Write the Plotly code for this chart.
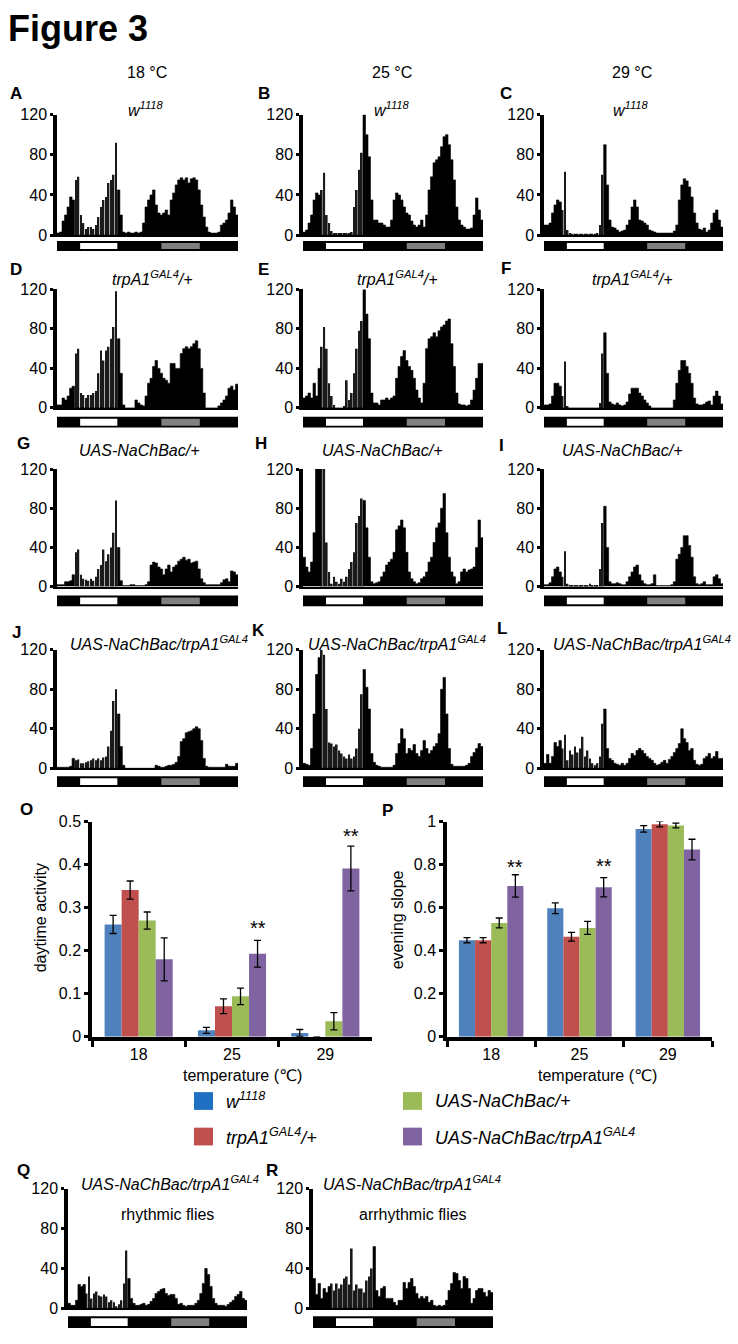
import plotly.graph_objects as go

W, H = 738, 1344
FONT = "Arial, 'Liberation Sans', 'DejaVu Sans', sans-serif"

# ---------------- data ----------------
bins = list(range(72))            # time bins of the activity profiles
light_bins = (7, 23)              # bins drawn striped (lights on)
ld_light = (8.7, 23.5)            # white segment of LD bar (bin units)
ld_grey = (41.0, 56.3)            # grey segment of LD bar (bin units)
act_ticks = [0, 40, 80, 120]

A_counts = [2,3,14,20,28,38,35,55,58,20, 12,6,8,8,6,10,18,28,35,38, 52,55,60,92,45,20,3,2,3,2,
            2,3,2,3,12,28,35,40,45,30, 22,20,22,25,20,35,42,50,55,57, 55,57,52,56,57,55,45,30,18,8,
            3,2,2,2,3,10,12,15,22,35, 28,20]
B_counts = [3,5,12,20,35,42,40,45,62,20, 12,4,2,2,2,2,2,2,2,3, 28,45,65,82,120,100,78,35,15,15,
            12,12,10,8,8,15,35,42,40,35, 28,22,20,14,10,8,10,15,8,20, 45,58,72,75,78,88,98,100,90,75,
            55,28,15,10,8,6,6,7,20,37, 25,15]
C_counts = [10,10,12,22,30,35,33,25,63,5, 2,1,1,1,1,1,1,1,1,1, 1,2,10,60,90,50,15,8,7,5,
            3,4,5,10,15,28,35,28,15,14, 12,10,5,4,3,2,2,2,2,2, 2,2,4,10,35,50,56,54,48,38,
            22,12,6,5,7,3,5,12,22,25, 15,8]
D_counts = [3,3,10,8,12,20,22,55,60,15, 13,10,13,13,15,17,35,58,48,58, 62,70,82,118,70,35,3,0,0,0,
            0,8,5,3,2,12,25,30,42,48, 40,35,30,28,25,45,45,40,40,55, 60,62,60,62,65,68,60,40,15,0,
            0,0,0,0,2,5,8,12,20,22, 18,24]
E_counts = [10,12,15,10,25,12,40,62,82,60, 25,12,3,0,0,0,2,28,8,15, 35,60,78,88,120,95,70,15,5,5,
            3,8,8,10,8,10,12,30,42,52, 58,48,42,38,30,18,10,5,25,60, 70,72,76,72,78,82,84,88,90,65,
            42,15,4,3,3,2,3,8,18,30, 45,45]
F_counts = [3,3,4,12,25,25,22,12,47,2, 0,0,0,0,0,0,0,0,0,0, 0,0,5,55,76,35,6,4,3,5,
            3,2,3,6,14,20,20,20,15,12, 8,5,2,0,0,0,0,0,0,0, 0,0,8,25,38,48,48,42,35,25,
            10,4,3,3,4,6,7,3,12,17, 12,4]
G_counts = [2,2,2,5,5,6,12,35,38,12, 8,7,6,8,6,10,18,22,38,26, 33,40,55,88,40,6,1,1,1,2,
            2,1,1,1,1,2,5,22,25,24, 20,18,12,18,22,15,20,22,26,28, 30,27,28,24,25,26,18,8,4,2,
            2,2,2,2,2,4,7,8,5,16, 15,12]
H_counts = [30,20,15,25,55,120,120,120,120,45, 15,3,10,5,3,8,5,10,18,25, 35,65,72,90,88,60,30,5,3,4,
            5,10,15,22,25,28,35,58,62,68, 60,35,15,8,5,3,4,8,10,15, 25,30,45,60,65,80,95,55,30,15,
            10,3,5,15,18,15,17,18,20,40, 68,50]
I_counts = [2,2,4,10,18,20,15,10,36,3, 1,1,1,1,1,1,1,1,3,1, 1,1,18,65,82,40,5,3,3,4,
            3,2,2,5,10,15,20,22,12,6, 3,2,2,3,12,1,1,1,1,1, 1,2,5,28,33,40,52,52,42,30,
            10,3,2,3,5,2,2,2,10,12, 8,3]
J_counts = [1,1,1,1,1,2,10,8,9,5, 5,6,7,8,10,8,10,8,11,12, 22,38,68,80,55,22,3,0,0,0,
            0,0,0,0,0,0,0,0,0,3, 2,1,1,2,3,3,4,6,12,27, 30,36,37,38,40,42,40,28,10,2,
            1,1,1,1,1,1,1,4,2,2, 2,5]
K_counts = [5,4,3,20,55,95,112,120,115,60, 26,25,22,24,18,15,12,10,14,10, 12,20,40,75,100,82,60,15,6,3,
            2,1,1,1,1,1,3,15,25,40, 30,15,20,18,24,15,12,18,28,20, 15,18,22,25,35,80,92,55,20,4,
            2,2,2,2,2,3,5,12,16,20, 25,22]
L_counts = [5,14,5,12,26,22,28,20,34,8, 18,14,22,16,20,32,12,18,10,5, 3,5,12,45,60,20,10,8,5,4,
            3,5,3,5,10,15,13,18,20,18, 15,12,10,8,5,3,4,6,8,5, 9,12,16,20,25,40,30,26,18,20,
            8,4,3,4,10,12,15,10,12,17, 10,10]
Q_counts = [5,3,3,8,24,22,24,15,32,10, 15,17,13,12,14,12,6,8,6,2, 4,8,25,58,30,10,5,3,3,4,
            5,3,4,7,10,15,17,19,20,15, 13,14,14,10,4,5,3,2,3,3, 3,5,8,15,25,40,34,22,10,5,
            3,3,3,2,4,6,8,12,14,17, 10,8]
R_counts = [30,14,25,10,20,16,22,25,18,25, 20,24,30,32,24,60,18,24,20,20, 16,28,32,40,62,18,12,20,22,10,
            10,10,6,3,8,8,26,20,26,30, 22,15,10,12,10,12,6,8,3,2, 3,2,3,8,18,25,36,35,28,20,
            32,30,20,5,10,18,20,20,16,12, 18,16]

temps = ["18", "25", "29"]
col_headers = ["18 °C", "25 °C", "29 °C"]
geno_w1118 = "<i>w<sup>1118</sup></i>"
geno_trpA1 = "<i>trpA1<sup>GAL4</sup>/+</i>"
geno_uas = "<i>UAS-NaChBac/+</i>"
geno_cross = "<i>UAS-NaChBac/trpA1<sup>GAL4</sup></i>"

# panel O: daytime activity (mean, sem) per temperature
day_w1118 = [0.261, 0.015, 0.009]
day_w1118_err = [0.021, 0.007, 0.008]
day_trpA1 = [0.341, 0.071, 0.0]
day_trpA1_err = [0.021, 0.017, 0.0]
day_uas = [0.270, 0.094, 0.036]
day_uas_err = [0.020, 0.019, 0.020]
day_cross = [0.180, 0.193, 0.391]
day_cross_err = [0.050, 0.031, 0.052]
day_stars = [(1, 0.264), (2, 0.479)]

# panel P: evening slope (mean, sem)
eve_w1118 = [0.449, 0.597, 0.966]
eve_w1118_err = [0.012, 0.025, 0.015]
eve_trpA1 = [0.449, 0.465, 0.988]
eve_trpA1_err = [0.012, 0.020, 0.013]
eve_uas = [0.529, 0.506, 0.982]
eve_uas_err = [0.023, 0.030, 0.011]
eve_cross = [0.701, 0.695, 0.870]
eve_cross_err = [0.052, 0.045, 0.048]
eve_stars = [(0, 0.813), (1, 0.817)]

BLUE, RED, GREEN, PURPLE = "#4F81BD", "#C0504D", "#9BBB59", "#8064A2"
LEG_BLUE = "#1F6FC2"


def fx(p):
    return p / W


def fy(p):
    return 1 - p / H


fig = go.Figure()
layout = {}
shapes = []
annotations = []


def ann(text, x, y, size=16, xanchor="center", yanchor="middle", angle=0, yshift=0):
    annotations.append(dict(text=text, x=fx(x), y=fy(y), xref="paper", yref="paper",
                            showarrow=False, xanchor=xanchor, yanchor=yanchor, textangle=angle,
                            yshift=yshift, font=dict(family=FONT, size=size, color="black")))


def names(n):
    if n == 1:
        return "xaxis", "yaxis", "x", "y"
    return f"xaxis{n}", f"yaxis{n}", f"x{n}", f"y{n}"


# letter, subtitle, counts, x-span, y-span (120 -> 0), LD bar rows, letter pos, subtitle pos
act_panels = [
    ("A", geno_w1118, A_counts, (57, 238), (108, 230), (236, 246), (8, 87), (146, 102)),
    ("B", geno_w1118, B_counts, (303, 483), (108, 230), (236, 246), (256, 87), (392, 102)),
    ("C", geno_w1118, C_counts, (544, 723), (108, 230), (236, 246), (498, 87), (631, 102)),
    ("D", geno_trpA1, D_counts, (57, 238), (285, 405), (414, 425), (8, 265), (152, 273)),
    ("E", geno_trpA1, E_counts, (303, 483), (285, 405), (414, 425), (256, 265), (397, 273)),
    ("F", geno_trpA1, F_counts, (544, 723), (285, 405), (414, 425), (499, 264), (632, 273)),
    ("G", geno_uas, G_counts, (57, 238), (467, 586), (595, 606), (15, 441), (139, 448)),
    ("H", geno_uas, H_counts, (303, 483), (467, 586), (595, 606), (253, 441), (382, 448)),
    ("I", geno_uas, I_counts, (544, 723), (467, 586), (595, 606), (497, 443), (622, 448)),
    ("J", geno_cross, J_counts, (57, 238), (650, 770), (778, 789), (10, 633), (159, 643)),
    ("K", geno_cross, K_counts, (303, 483), (650, 770), (778, 789), (250, 630), (397, 643)),
    ("L", geno_cross, L_counts, (544, 723), (650, 770), (778, 789), (495, 628), (642, 643)),
    ("Q", geno_cross, Q_counts, (68, 247), (1196, 1317), (1325, 1337), (15, 1177), (170, 1190)),
    ("R", geno_cross, R_counts, (313, 493), (1196, 1317), (1325, 1337), (264, 1177), (412, 1190)),
]

edges = [b - 0.5 for b in bins] + [bins[-1] + 0.5]

for i, (letter, sub, counts, xs, ys, ld, lpos, spos) in enumerate(act_panels):
    n = i + 1
    xa, ya, xr, yr = names(n)
    light = [light_bins[0] <= b <= light_bins[1] for b in bins]
    # dark-phase bins: solid step silhouette
    dark_y = [0 if l else c for l, c in zip(light, counts)]
    fig.add_trace(go.Scatter(x=edges, y=dark_y + [dark_y[-1]], mode="lines",
                             line=dict(shape="hv", width=0.6, color="black"),
                             fill="tozeroy", fillcolor="black",
                             xaxis=xr, yaxis=yr, showlegend=False, hoverinfo="skip"))
    # light-phase bins: separated (striped) bars
    lx = [b for b, l in zip(bins, light) if l]
    ly = [c for c, l in zip(counts, light) if l]
    fig.add_trace(go.Bar(x=lx, y=ly, width=0.68, offset=-0.34,
                         marker=dict(color="#1a1a1a", line=dict(width=0)),
                         xaxis=xr, yaxis=yr, showlegend=False, hoverinfo="skip"))
    layout[xa] = dict(domain=[fx(xs[0]), fx(xs[1])], anchor=yr, range=[-0.5, 71.5],
                      showticklabels=False, ticks="", showgrid=False, zeroline=False,
                      showline=True, linecolor="black", linewidth=1.5, fixedrange=True)
    layout[ya] = dict(domain=[fy(ys[1]), fy(ys[0])], anchor=xr, range=[0, 120],
                      tickvals=act_ticks, ticks="outside", ticklen=3, tickwidth=3,
                      tickcolor="black", showline=True, linecolor="black", linewidth=3.5,
                      showgrid=False, zeroline=False,
                      tickfont=dict(family=FONT, size=16, color="black"), fixedrange=True)
    # LD bar
    shapes.append(dict(type="rect", xref=xr, yref="paper", x0=-0.9, x1=71.6,
                       y0=fy(ld[1]), y1=fy(ld[0]), fillcolor="black", line=dict(width=0)))
    shapes.append(dict(type="rect", xref=xr, yref="paper", x0=ld_light[0], x1=ld_light[1],
                       y0=fy(ld[1] - 2), y1=fy(ld[0] + 2), fillcolor="white", line=dict(width=0)))
    shapes.append(dict(type="rect", xref=xr, yref="paper", x0=ld_grey[0], x1=ld_grey[1],
                       y0=fy(ld[1] - 2), y1=fy(ld[0] + 2), fillcolor="#808080", line=dict(width=0)))
    ann(f"<b>{letter}</b>", lpos[0], lpos[1], size=17, xanchor="left")
    ann(sub, spos[0], spos[1], size=16)

ann("rhythmic flies", 167, 1222, size=16)
ann("arrhythmic flies", 413, 1222, size=16)

# title and column headers
ann("<b>Figure 3</b>", 6, 21, size=36, xanchor="left")
for txt, cx in zip(col_headers, [147, 392, 632]):
    ann(txt, cx, 65, size=16)

# ---------------- bar charts O and P ----------------
bargap = 0.27
group_w = 1 - bargap
purple_off = -group_w / 2 + group_w / 4 * 3.5

bar_specs = [
    (15, (92, 372), 0.5, 0.1,
     [(day_w1118, day_w1118_err, BLUE), (day_trpA1, day_trpA1_err, RED),
      (day_uas, day_uas_err, GREEN), (day_cross, day_cross_err, PURPLE)], day_stars),
    (16, (447, 712), 1.0, 0.2,
     [(eve_w1118, eve_w1118_err, BLUE), (eve_trpA1, eve_trpA1_err, RED),
      (eve_uas, eve_uas_err, GREEN), (eve_cross, eve_cross_err, PURPLE)], eve_stars),
]
for n, xs, ymax, dt, series, stars in bar_specs:
    xa, ya, xr, yr = names(n)
    for vals, errs, col in series:
        fig.add_trace(go.Bar(x=temps, y=vals, marker=dict(color=col, line=dict(width=0)),
                             error_y=dict(type="data", array=errs, color="black",
                                          thickness=1.3, width=3.5),
                             xaxis=xr, yaxis=yr, showlegend=False, hoverinfo="skip"))
    layout[xa] = dict(domain=[fx(xs[0]), fx(xs[1])], anchor=yr, type="category",
                      range=[-0.5, 2.5], tickson="boundaries", ticks="outside", ticklen=6,
                      tickwidth=2.5, tickcolor="black", showline=True, linecolor="black",
                      linewidth=3.5, showgrid=False, zeroline=False,
                      tickfont=dict(family=FONT, size=16, color="black"), fixedrange=True)
    layout[ya] = dict(domain=[fy(1042), fy(824)], anchor=xr, range=[0, ymax], dtick=dt, tick0=0,
                      ticks="outside", ticklen=4, tickwidth=2.5, tickcolor="black",
                      showline=True, linecolor="black", linewidth=3.5, showgrid=False,
                      zeroline=False, tickfont=dict(family=FONT, size=16, color="black"),
                      fixedrange=True)
    for ci, sy in stars:
        annotations.append(dict(text="**", x=ci + purple_off, y=sy, xref=xr, yref=yr,
                                showarrow=False, xanchor="center", yanchor="middle", yshift=-5,
                                font=dict(family=FONT, size=20, color="black")))

ann("<b>O</b>", 18, 812, size=17, xanchor="left")
ann("<b>P</b>", 380, 813, size=17, xanchor="left")
ann("daytime activity", 40, 922, size=16, angle=-90)
ann("evening slope", 397, 924, size=16, angle=-90)
ann("temperature (℃)", 242, 1081, size=16)
ann("temperature (℃)", 597, 1081, size=16)

# legend
legend_items = [
    (LEG_BLUE, geno_w1118, 194, 1107),
    (GREEN, geno_uas, 403, 1107),
    (RED, geno_trpA1, 194, 1143),
    (PURPLE, geno_cross, 403, 1143),
]
for col, txt, lx, ly in legend_items:
    shapes.append(dict(type="rect", xref="paper", yref="paper", x0=fx(lx), x1=fx(lx + 19),
                       y0=fy(ly + 9), y1=fy(ly - 9), fillcolor=col, line=dict(width=0)))
    ann(txt, lx + 30, ly, size=18, xanchor="left")

fig.update_layout(width=W, height=H, margin=dict(l=0, r=0, t=0, b=0),
                  paper_bgcolor="white", plot_bgcolor="white", showlegend=False,
                  barmode="group", bargap=bargap, bargroupgap=0,
                  shapes=shapes, annotations=annotations, **layout)

fig.write_html("out.html", config={"displayModeBar": False},
               post_script="document.body.style.margin='0px';")
